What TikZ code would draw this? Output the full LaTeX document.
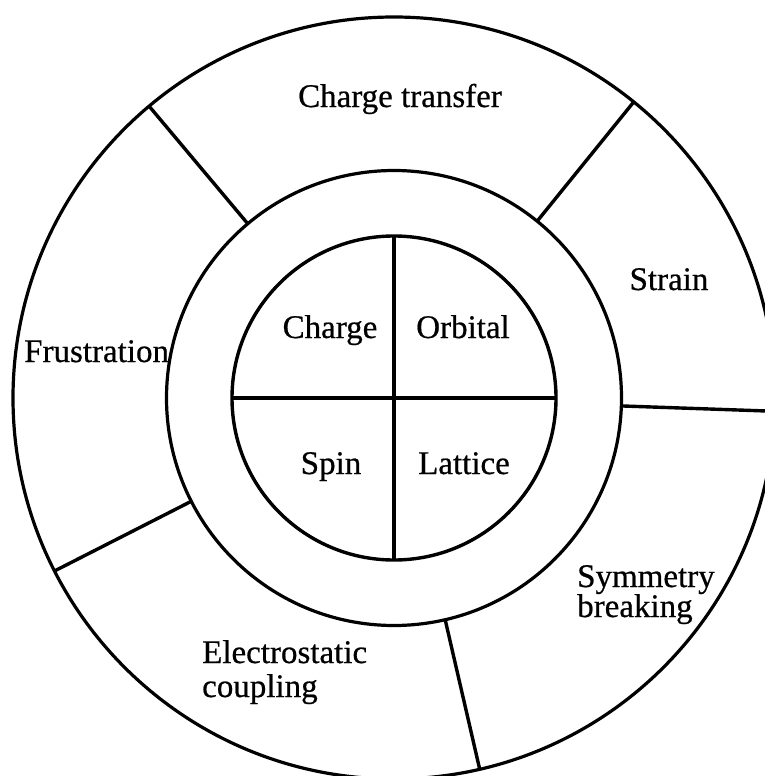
\documentclass[tikz,border=0pt]{standalone}
\usepackage{fontspec}
\setmainfont{Liberation Serif}
\newfontfamily\lblfont[FakeBold=0.6]{Liberation Serif}
\begin{document}
\begin{tikzpicture}[x=1pt,y=-1pt,
  ring/.style={circle,draw,line width=3.2pt,inner sep=0pt,outer sep=0pt},
  spoke/.style={line width=3.4pt},
  cross/.style={line width=3.8pt},
  lbl/.style={inner sep=0pt,font=\lblfont\fontsize{33}{36}\selectfont}]
\useasboundingbox (0,0) rectangle (765,776);
\clip (0,0) rectangle (765,776);
\node[ring,minimum size=762pt] (outer) at (394,398) {};
\node[ring,minimum size=455pt] (mid) at (394,398) {};
\node[ring,minimum size=324pt,line width=3.4pt] (inner) at (394,398) {};
% inner cross
\draw[cross] (inner.90) -- (inner.270);
\draw[cross] (inner.180) -- (inner.0);
% spokes of the outer ring
\draw[spoke] (mid.130) -- (outer.130);
\draw[spoke] (mid.51.2) -- (outer.51.2);
\draw[spoke] (mid.-2) -- (outer.-2);
\draw[spoke] (mid.-77.5) -- (outer.-77.5);
\draw[spoke] (mid.207) -- (outer.207);
% inner labels
\node[lbl,anchor=base] (charge) at (330,338) {Charge};
\node[lbl,anchor=base] (orbital) at (463,338) {Orbital};
\node[lbl,anchor=base] (spin) at (331,474) {Spin};
\node[lbl,anchor=base] (lattice) at (464,474) {Lattice};
% outer labels
\node[lbl,anchor=base] (ct) at (400,107) {Charge transfer};
\node[lbl,anchor=base] (strain) at (669,290) {Strain};
\node[lbl,anchor=base west] (frus) at (24,362) {Frustration};
\node[lbl,anchor=base west] (sym1) at (577,587) {Symmetry};
\node[lbl,anchor=base west] (sym2) at (577,617) {breaking};
\node[lbl,anchor=base west] (el1) at (202,663) {Electrostatic};
\node[lbl,anchor=base west] (el2) at (202,697) {coupling};
\end{tikzpicture}
\end{document}
